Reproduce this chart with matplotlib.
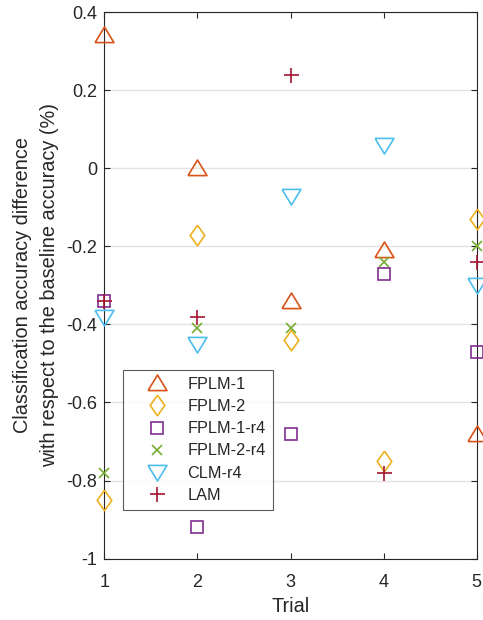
import matplotlib
matplotlib.use("Agg")
import matplotlib.pyplot as plt
import numpy as np

plt.rcParams['font.family'] = ['Liberation Sans', 'DejaVu Sans']

trials = [1, 2, 3, 4, 5]
fplm_1 = [0.34, 0.00, -0.34, -0.21, -0.68]
fplm_2 = [-0.85, -0.17, -0.44, -0.75, -0.13]
fplm_1_r4 = [-0.34, -0.92, -0.68, -0.27, -0.47]
fplm_2_r4 = [-0.78, -0.41, -0.41, -0.24, -0.20]
clm_r4 = [-0.38, -0.45, -0.07, 0.06, -0.30]
lam = [-0.34, -0.38, 0.24, -0.78, -0.24]

series_names = ['FPLM-1', 'FPLM-2', 'FPLM-1-r4', 'FPLM-2-r4', 'CLM-r4', 'LAM']
y_ticks = [-1, -0.8, -0.6, -0.4, -0.2, 0, 0.2, 0.4]
y_tick_labels = ['-1', '-0.8', '-0.6', '-0.4', '-0.2', '0', '0.2', '0.4']
x_tick_labels = ['1', '2', '3', '4', '5']

# MATLAB-style marker shapes
tri_up = [(-1, -0.75), (1, -0.75), (0, 0.9), (-1, -0.75)]
tri_down = [(-1, 0.75), (1, 0.75), (0, -0.9), (-1, 0.75)]
diamond = [(0, 1), (0.71, 0), (0, -1), (-0.71, 0), (0, 1)]

styles = [
    dict(marker=tri_up, ms=13.6, color='#D95319'),
    dict(marker=diamond, ms=14.8, color='#EDB120'),
    dict(marker='s', ms=8.1, color='#7E2F8E'),
    dict(marker='x', ms=6.8, color='#77AC30'),
    dict(marker=tri_down, ms=13.6, color='#4DBEEE'),
    dict(marker='+', ms=10.8, color='#A2142F'),
]
data = [fplm_1, fplm_2, fplm_1_r4, fplm_2_r4, clm_r4, lam]

fig = plt.figure(figsize=(4.83, 6.2), dpi=100)
ax = fig.add_axes([0.216, 0.0989, 0.771, 0.8817])

for name, vals, st in zip(series_names, data, styles):
    ax.plot(trials, vals, linestyle='none', marker=st['marker'], markersize=st['ms'],
            markerfacecolor='none', markeredgecolor=st['color'], markeredgewidth=1.2,
            label=name, clip_on=False, zorder=3)

ax.set_xlim(1, 5)
ax.set_ylim(-1, 0.4)
ax.set_xticks(trials)
ax.set_xticklabels(x_tick_labels)
ax.set_yticks(y_ticks)
ax.set_yticklabels(y_tick_labels)

ax.yaxis.grid(True, color='#e3e3e3', linewidth=1.0)
ax.set_axisbelow(True)

axis_col = '#262626'
for sp in ax.spines.values():
    sp.set_color(axis_col)
    sp.set_linewidth(0.8)

ax.tick_params(direction='in', length=4, width=0.8, color=axis_col,
               labelcolor=axis_col, labelsize=13, top=True, right=True)
ax.tick_params(axis='y', pad=5)
ax.tick_params(axis='x', pad=11)

ax.set_xlabel('Trial', fontsize=14.3, color=axis_col, labelpad=4.5)
ax.set_ylabel('Classification accuracy difference\nwith respect to the baseline accuracy (%)',
              fontsize=14.3, color=axis_col, linespacing=1.55, labelpad=5)

leg = ax.legend(loc='lower left', bbox_to_anchor=(0.051, 0.089), borderaxespad=0,
                fontsize=11.7, frameon=True, fancybox=False, borderpad=0.45,
                handlelength=3.25, handletextpad=0.24, labelspacing=0.44)
leg.get_frame().set_edgecolor('#333333')
leg.get_frame().set_linewidth(0.8)
for t in leg.get_texts():
    t.set_color(axis_col)

fig.savefig('out.png', dpi=100)
